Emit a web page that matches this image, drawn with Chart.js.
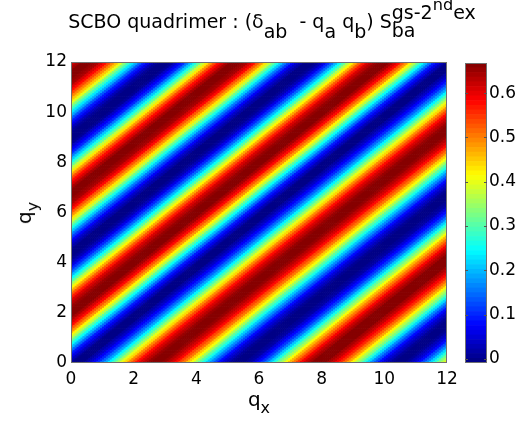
<!DOCTYPE html>
<html>
<head>
<meta charset="utf-8">
<script src="https://cdn.jsdelivr.net/npm/chart.js@4.4.1/dist/chart.umd.min.js"></script>
<style>
  body { margin: 0; background: #fff; }
  #wrap { position: relative; width: 523px; height: 429px; font-family: "DejaVu Sans", sans-serif; color: #000; }
  canvas { position: absolute; top: 0; }
  #main { left: 0; }
  #cbar { left: 455px; }
  .lbl { position: absolute; white-space: nowrap; line-height: 1; }
  .sb { font-size: 0.8em; position: relative; top: 0.45em; }
  .sp { font-size: 1em; position: relative; top: -0.5em; }
  #title .sb { font-size: 1em; top: 0.5em; }
  #title .sp .sp { font-size: 0.85em; top: -0.5em; }
  .ss { position: relative; }
  .ss .sb2 { position: absolute; left: 0; top: 0.56em; }
  #title { left: 272px; top: 12px; transform: translateX(-50%); font-size: 19px; }
  #xlab { left: 259px; top: 389px; transform: translateX(-50%); font-size: 20px; }
  #ylab { left: 24px; top: 213px; transform: translate(-50%, -50%) rotate(-90deg); font-size: 20px; }
</style>
</head>
<body>
<div id="wrap">
  <canvas id="main" width="523" height="429"></canvas>
  <canvas id="cbar" width="68" height="429"></canvas>
  <div class="lbl" id="title">SCBO quadrimer : (&delta;<span class="sb">ab</span>&nbsp; - q<span class="sb">a</span> q<span class="sb">b</span>) S<span class="ss"><span class="sb2">ba</span><span class="sp">gs-2<span class="sp">nd</span>ex</span></span></div>
  <div class="lbl" id="xlab">q<span class="sb">x</span></div>
  <div class="lbl" id="ylab">q<span class="sb">y</span></div>
</div>
<script>
// valeurs lues sur la figure, pas de 0.125 en q
const edgeStep = 0.125;

// le long du bord bas (qy = 0), qx = 0 .. 12
const bottomEdge = [
  0.004, -0.007, -0.008, -0.001, 0.014, 0.036, 0.066, 0.102,
  0.144, 0.189, 0.238, 0.290, 0.342, 0.394, 0.445, 0.492,
  0.536, 0.575, 0.607, 0.634, 0.653, 0.665, 0.668, 0.664,
  0.652, 0.633, 0.607, 0.577, 0.540, 0.499, 0.454, 0.407,
  0.357, 0.307, 0.258, 0.210, 0.165, 0.123, 0.086, 0.054,
  0.028, 0.009, -0.004, -0.009, -0.006, 0.004, 0.022, 0.047,
  0.079, 0.117, 0.160, 0.207, 0.256, 0.309, 0.361, 0.412,
  0.461, 0.508, 0.550, 0.587, 0.618, 0.642, 0.658, 0.667,
  0.667, 0.660, 0.645, 0.623, 0.593, 0.558, 0.516, 0.470,
  0.422, 0.371, 0.319, 0.267, 0.217, 0.169, 0.126, 0.086,
  0.053, 0.026, 0.007, -0.005, -0.009, -0.005, 0.007, 0.026,
  0.053, 0.086, 0.126, 0.169, 0.217, 0.267, 0.319, 0.371,
  0.422
];

// le long du bord gauche (qx = 0), qy = 0 .. 12
const leftEdge = [
  0.004, 0.025, 0.056, 0.095, 0.140, 0.192, 0.247, 0.306,
  0.365, 0.423, 0.478, 0.529, 0.573, 0.610, 0.638, 0.658,
  0.667, 0.666, 0.654, 0.635, 0.606, 0.569, 0.525, 0.475,
  0.421, 0.365, 0.306, 0.249, 0.195, 0.144, 0.099, 0.060,
  0.029, 0.007, -0.006, -0.009, -0.002, 0.013, 0.038, 0.071,
  0.111, 0.158, 0.208, 0.262, 0.318, 0.375, 0.430, 0.483,
  0.530, 0.573, 0.608, 0.637, 0.656, 0.666, 0.667, 0.659,
  0.640, 0.611, 0.577, 0.535, 0.485, 0.432, 0.375, 0.318,
  0.260, 0.205, 0.154, 0.107, 0.066, 0.034, 0.011, -0.004,
  -0.009, -0.005, 0.008, 0.029, 0.058, 0.094, 0.136, 0.183,
  0.233, 0.286, 0.340, 0.394, 0.447, 0.496, 0.540, 0.579,
  0.612, 0.638, 0.657, 0.667, 0.667, 0.659, 0.642, 0.617,
  0.584
];

// ticks
const qTicks = [0, 2, 4, 6, 8, 10, 12];
const colorTicks = [0, 0.1, 0.2, 0.3, 0.4, 0.5, 0.6];
const colorLimits = [-0.009, 0.668];

document.addEventListener('DOMContentLoaded', () => {
    const fontFam = '"DejaVu Sans", sans-serif';
    const [cMin, cMax] = colorLimits;
    const cellStep = edgeStep / 2;   // cases plus fines pour adoucir l'escalier

    // jet 64 niveaux, comme matlab
    function jet(v) {
        const k = Math.min(63, Math.max(0, Math.floor((v - cMin) / (cMax - cMin) * 64)));
        const t = (k + 0.5) / 64;
        const c = x => Math.round(255 * Math.min(1, Math.max(0, 1.5 - Math.abs(4 * t - x))));
        return `rgb(${c(3)},${c(2)},${c(1)})`;
    }

    // les bandes suivent qx - qy : on remonte chaque case jusqu'au bord lu (point le plus proche)
    function cellValue(i, j) {
        const k = Math.round(Math.abs(i - j) * cellStep / edgeStep);
        return i >= j ? bottomEdge[k] : leftEdge[k];
    }

    const n = Math.round((bottomEdge.length - 1) * edgeStep / cellStep);
    const rows = [];
    for (let j = 0; j < n; j++) {
        const data = [];
        const colors = [];
        for (let i = 0; i < n; i++) {
            data.push({ x: (i + 0.5) * cellStep, y: [j * cellStep, (j + 1) * cellStep] });
            colors.push(jet(cellValue(i, j)));
        }
        rows.push({
            data: data,
            backgroundColor: colors,
            borderWidth: 0,
            grouped: false,
            barPercentage: 1,
            categoryPercentage: 1
        });
    }

    // cadre gris autour de la zone
    const framePlugin = {
        id: 'frame',
        afterDatasetsDraw(chart) {
            const { ctx, chartArea: a } = chart;
            ctx.save();
            ctx.strokeStyle = '#707070';
            ctx.lineWidth = 1;
            ctx.strokeRect(Math.round(a.left) + 0.5, Math.round(a.top) + 0.5,
                Math.round(a.right - a.left) - 1, Math.round(a.bottom - a.top) - 1);
            ctx.restore();
        }
    };

    const tickFont = { family: fontFam, size: 17 };

    new Chart(document.getElementById('main'), {
        type: 'bar',
        data: { datasets: rows },
        options: {
            responsive: false,
            animation: false,
            events: [],
            layout: { padding: { left: 0, top: 62, right: 76, bottom: 0 } },
            plugins: { legend: { display: false }, tooltip: { enabled: false } },
            scales: {
                x: {
                    type: 'linear', offset: false, min: qTicks[0], max: qTicks[qTicks.length - 1],
                    afterBuildTicks: s => { s.ticks = qTicks.map(v => ({ value: v })); },
                    ticks: { color: '#000', font: tickFont, padding: 6, maxRotation: 0 },
                    grid: { display: false, drawTicks: false, offset: false },
                    border: { display: false },
                    afterFit: s => { s.height = 66; }
                },
                y: {
                    type: 'linear', min: qTicks[0], max: qTicks[qTicks.length - 1],
                    afterBuildTicks: s => { s.ticks = qTicks.map(v => ({ value: v })); },
                    ticks: { color: '#000', font: tickFont, padding: 4 },
                    grid: { display: false, drawTicks: false },
                    border: { display: false },
                    afterFit: s => { s.width = 71; }
                }
            }
        },
        plugins: [framePlugin]
    });

    // barre de couleurs : 64 niveaux entre les limites
    const levels = [];
    for (let k = 0; k < 64; k++) {
        const lo = cMin + (cMax - cMin) * k / 64;
        const hi = cMin + (cMax - cMin) * (k + 1) / 64;
        levels.push({
            data: [[lo, hi]],
            backgroundColor: jet((lo + hi) / 2),
            borderWidth: 0,
            grouped: false,
            barPercentage: 1,
            categoryPercentage: 1
        });
    }

    // petits traits vers l'interieur, des deux cotes
    const cbarTicks = {
        id: 'cbarTicks',
        afterDatasetsDraw(chart) {
            const { ctx, chartArea: a, scales } = chart;
            ctx.save();
            ctx.strokeStyle = '#555';
            ctx.lineWidth = 1;
            colorTicks.forEach(v => {
                const y = Math.round(scales.y.getPixelForValue(v)) + 0.5;
                ctx.beginPath();
                ctx.moveTo(a.left, y); ctx.lineTo(a.left + 3, y);
                ctx.moveTo(a.right - 3, y); ctx.lineTo(a.right, y);
                ctx.stroke();
            });
            ctx.restore();
        }
    };

    new Chart(document.getElementById('cbar'), {
        type: 'bar',
        data: { labels: [''], datasets: levels },
        options: {
            responsive: false,
            animation: false,
            events: [],
            layout: { padding: { left: 10, top: 63, right: 0, bottom: 66 } },
            plugins: { legend: { display: false }, tooltip: { enabled: false } },
            scales: {
                x: { display: false },
                y: {
                    position: 'right', min: cMin, max: cMax,
                    afterBuildTicks: s => { s.ticks = colorTicks.map(v => ({ value: v })); },
                    ticks: { color: '#000', font: tickFont, padding: 2, callback: v => v === 0 ? '0' : v.toFixed(1) },
                    grid: { display: false, drawTicks: false },
                    border: { display: false },
                    afterFit: s => { s.width = 36; }
                }
            }
        },
        plugins: [framePlugin, cbarTicks]
    });
});
</script>
</body>
</html>
